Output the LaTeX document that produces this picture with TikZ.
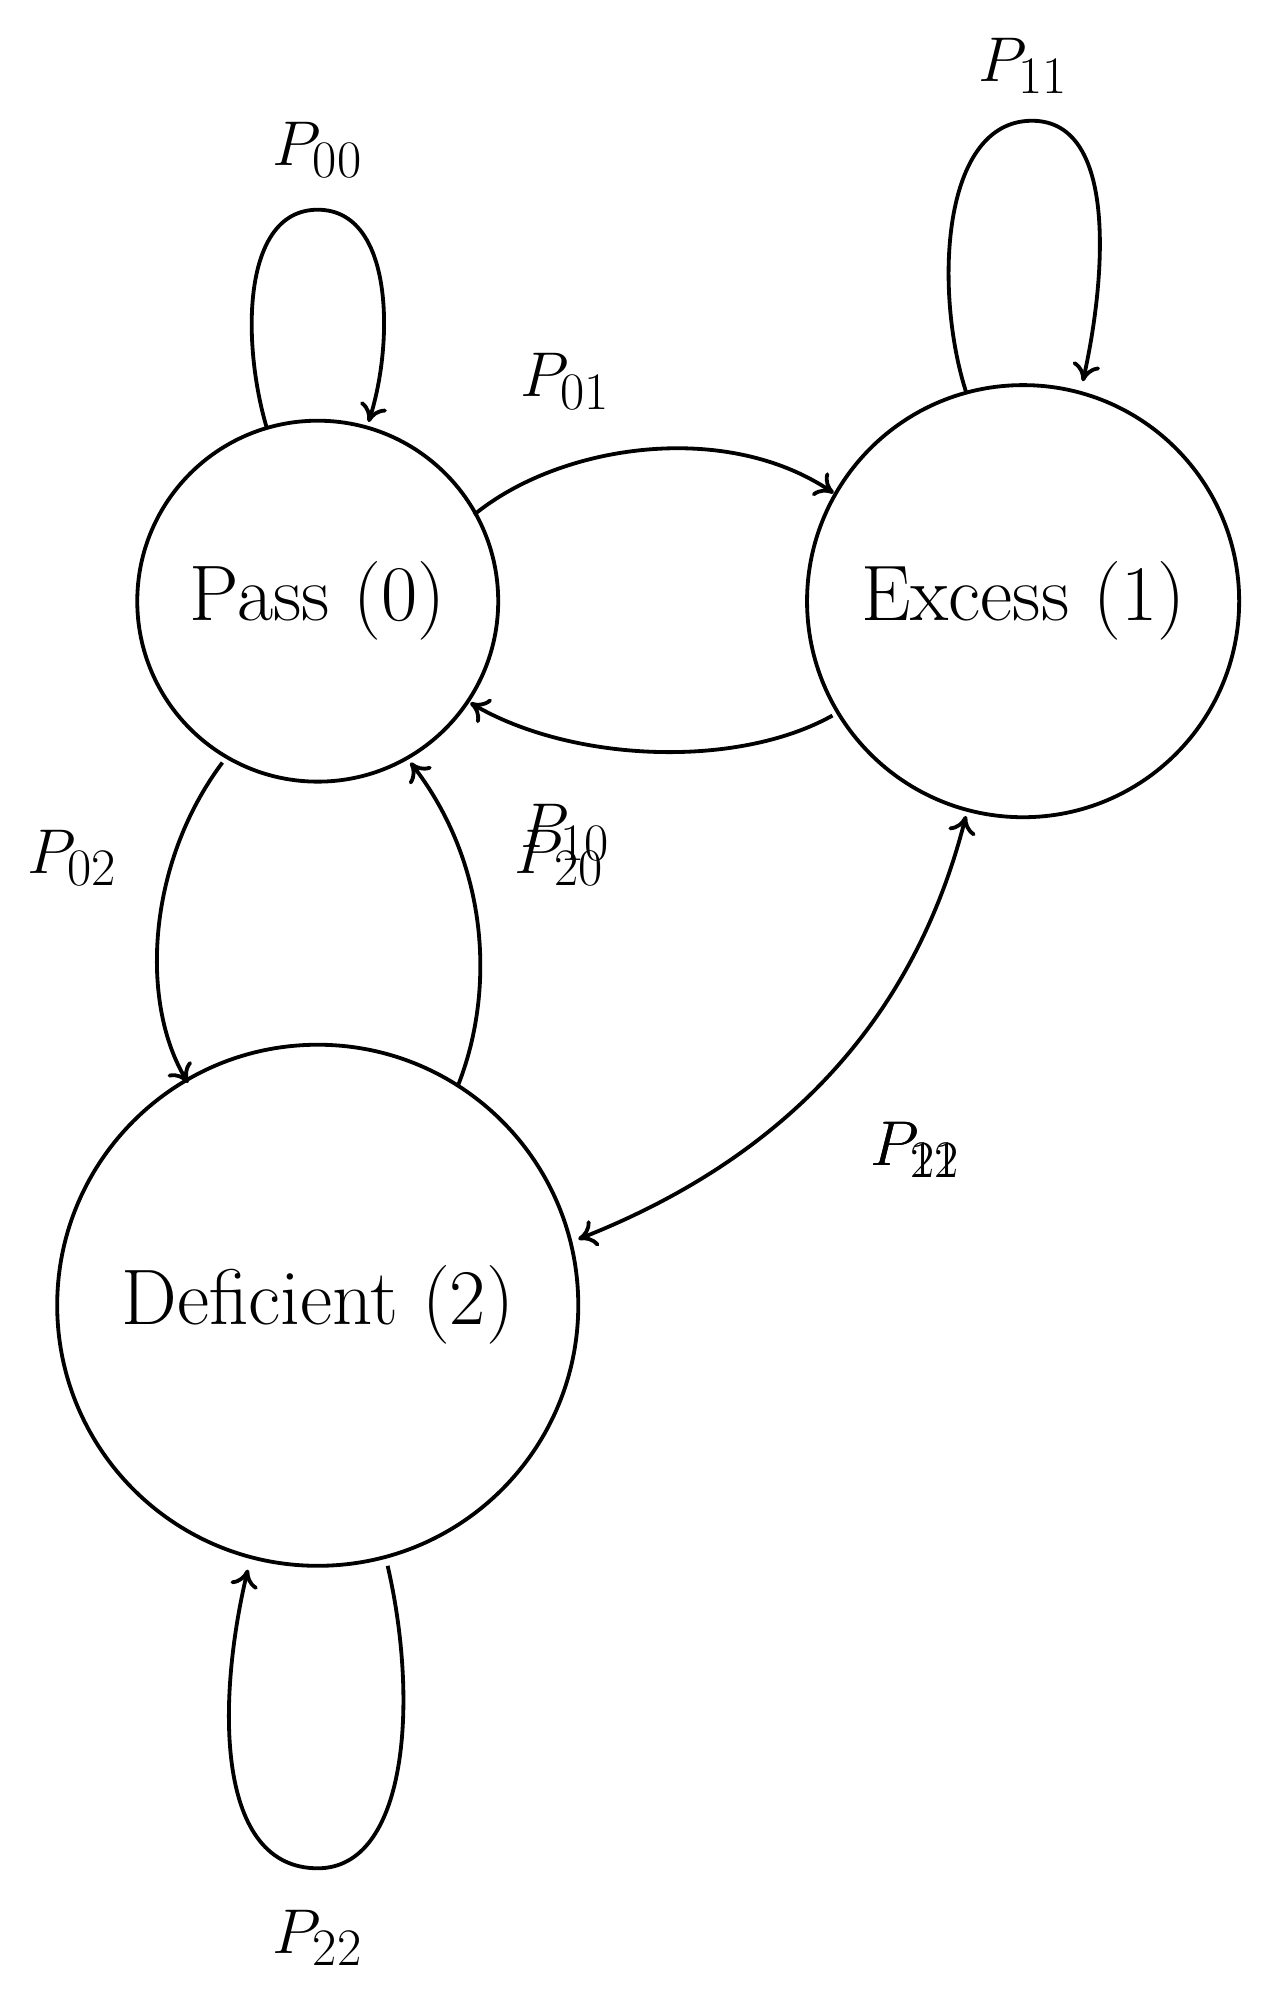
\documentclass[tikz,border=0pt]{standalone}
\usetikzlibrary{arrows.meta}
\begin{document}
\begin{tikzpicture}[x=0.5pt,y=-0.5pt,
  st/.style={circle,draw,line width=1.5pt,inner sep=0pt,font=\fontsize{31}{36}\selectfont},
  ed/.style={line width=1.5pt,-{To[length=7pt,width=11pt]}},
  lb/.style={font=\fontsize{29}{34}\selectfont}]
\useasboundingbox (0,0) rectangle (1000,1576);
\node[st,minimum size=142pt] (p) at (250,473) {Pass (0)};
\node[st,minimum size=170pt] (e) at (805,473) {Excess (1)};
\node[st,minimum size=205pt] (d) at (250,1027) {Deficient (2)};
\coordinate (p1) at (210,337); \coordinate (p2) at (290,332);
\draw[ed] (p1) .. controls (190,270) and (190,165) .. (250,165) .. controls (310,165) and (310,270) .. (p2);
\node[lb] (l00) at (250,118) {$P_{00}$};
\coordinate (e1) at (760,308); \coordinate (e2) at (852,300);
\draw[ed] (e1) .. controls (735,230) and (740,95) .. (812,95) .. controls (880,95) and (870,220) .. (e2);
\node[lb] (l11) at (805,52) {$P_{11}$};
\coordinate (a1) at (373,405); \coordinate (a2) at (656,388);
\draw[ed] (a1) .. controls (440,350) and (570,330) .. (a2);
\node[lb] (l01) at (445,300) {$P_{01}$};
\coordinate (b1) at (655,563); \coordinate (b2) at (370,553);
\draw[ed] (b1) .. controls (580,605) and (450,600) .. (b2);
\node[lb] (l10) at (445,655) {$P_{10}$};
\coordinate (c1) at (175,600); \coordinate (c2) at (148,852);
\draw[ed] (c1) .. controls (115,680) and (110,790) .. (c2);
\node[lb] (l02) at (57,675) {$P_{02}$};
\coordinate (f1) at (360,855); \coordinate (f2) at (323,600);
\draw[ed] (f1) .. controls (390,780) and (385,680) .. (f2);
\node[lb] (l20) at (440,675) {$P_{20}$};
\coordinate (g1) at (760,642); \coordinate (g2) at (455,975);
\draw[ed,{To[length=7pt,width=11pt]}-{To[length=7pt,width=11pt]}] (g1) .. controls (720,800) and (620,910) .. (g2);
\node[lb] (l12) at (720,905) {$P_{12}$};
\node[lb] (l21) at (720,905) {$P_{21}$};
\coordinate (h1) at (305,1232); \coordinate (h2) at (195,1235);
\draw[ed] (h1) .. controls (330,1340) and (320,1470) .. (250,1470) .. controls (170,1470) and (170,1340) .. (h2);
\node[lb] (l22) at (250,1525) {$P_{22}$};
\end{tikzpicture}
\end{document}
